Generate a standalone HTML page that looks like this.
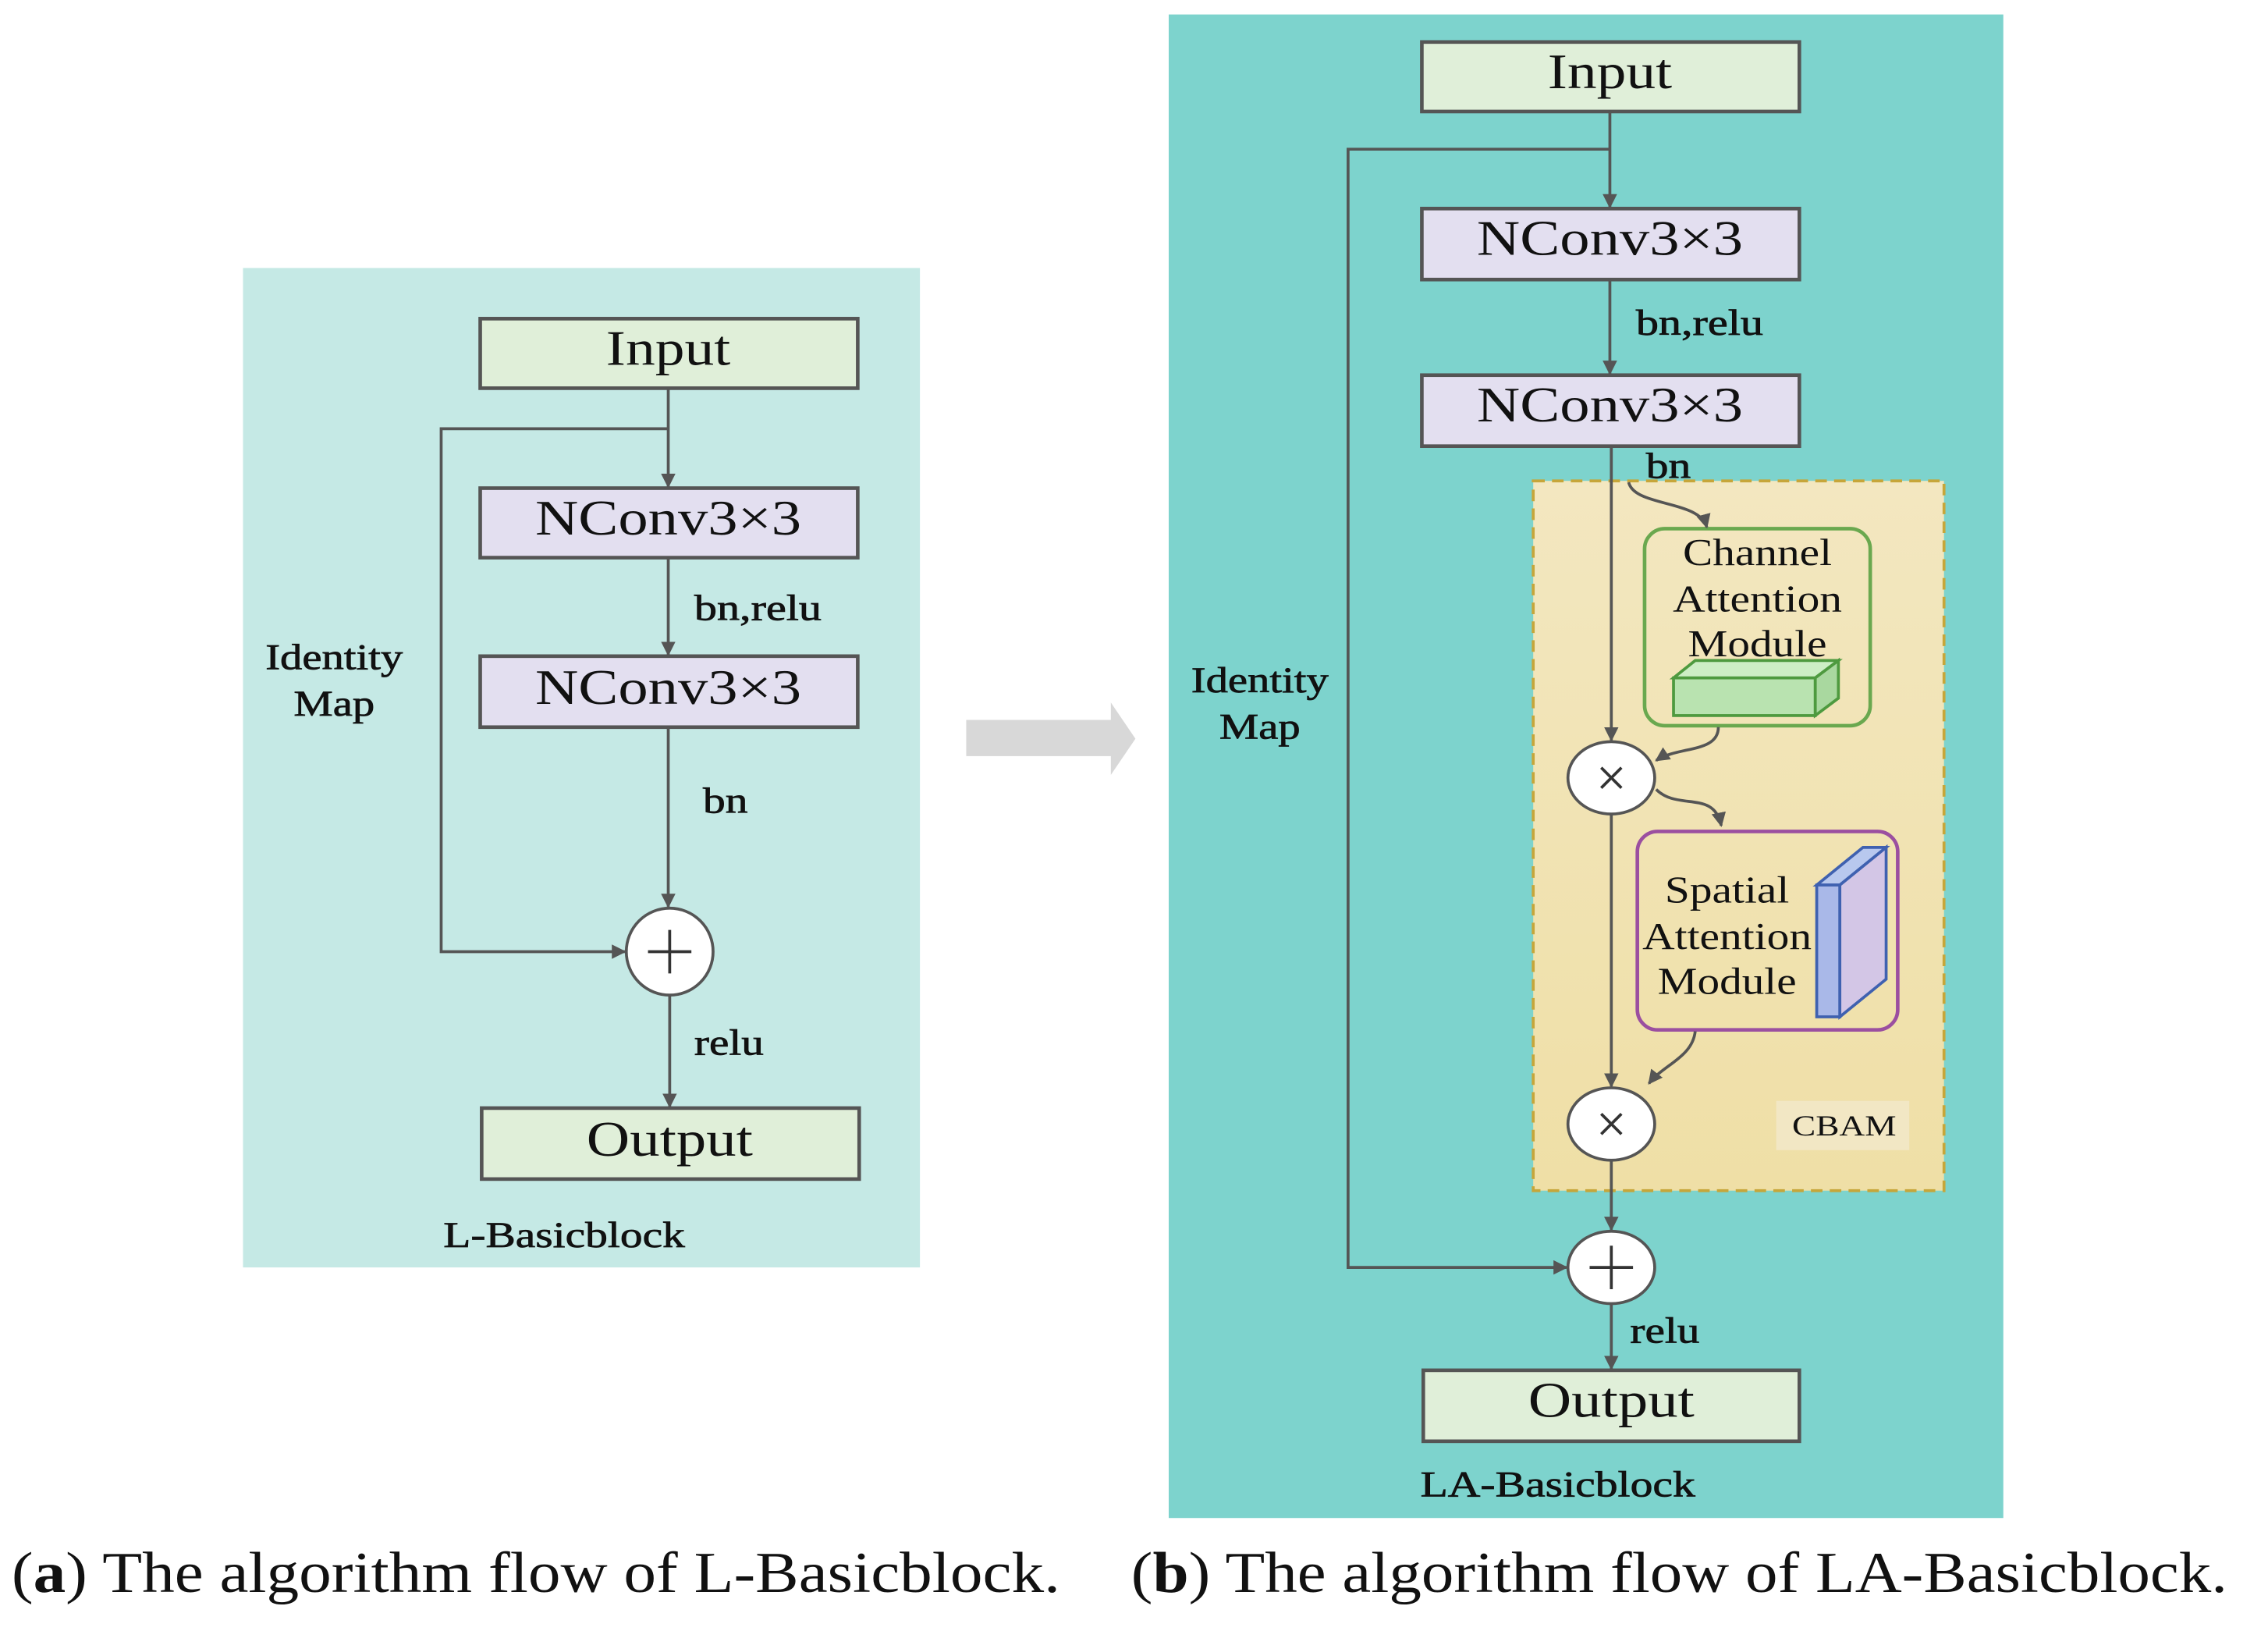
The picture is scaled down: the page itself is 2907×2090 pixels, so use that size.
<!DOCTYPE html>
<html><head><meta charset="utf-8"><style>html,body{margin:0;padding:0;background:#fff}svg{display:block}</style></head>
<body>
<svg width="2907" height="2090" viewBox="0 0 1568 1126" preserveAspectRatio="none" xmlns="http://www.w3.org/2000/svg" font-family="Liberation Serif, serif">
<defs>
<marker id="a" markerWidth="10" markerHeight="10" refX="9" refY="5" orient="auto" markerUnits="userSpaceOnUse"><path d="M0,0 L10,5 L0,10 Z" fill="#555"/></marker>
<linearGradient id="g" x1="0" y1="0" x2="0" y2="1"><stop offset="0" stop-color="#f3e7c0"/><stop offset="1" stop-color="#efdfa6"/></linearGradient>
</defs>
<rect x="168" y="185" width="468" height="690" fill="#c5e9e5"/>
<g stroke="#555" stroke-width="2.5">
<rect x="332" y="220" width="261" height="48" fill="#e0efd9"/>
<rect x="332" y="337" width="261" height="48" fill="#e3dff0"/>
<rect x="332" y="453" width="261" height="49" fill="#e3dff0"/>
<rect x="333" y="765" width="261" height="49" fill="#e0efd9"/>
</g>
<g stroke="#555" stroke-width="2" fill="none" marker-end="url(#a)">
<path d="M462,268 V336"/>
<path d="M462,296 H305 V657 H432"/>
<path d="M462,385 V452"/>
<path d="M462,502 V626"/>
<path d="M463,687 V764"/>
</g>
<circle cx="463" cy="657" r="30" fill="#fff" stroke="#555" stroke-width="2"/>
<path d="M448,657 H478 M463,642 V672" stroke="#333" stroke-width="2"/>
<g font-size="34" text-anchor="middle" fill="#111">
<text x="462" y="252" textLength="86" lengthAdjust="spacingAndGlyphs">Input</text>
<text x="462" y="369" textLength="184" lengthAdjust="spacingAndGlyphs">NConv3×3</text>
<text x="462" y="486" textLength="184" lengthAdjust="spacingAndGlyphs">NConv3×3</text>
<text x="463" y="798" textLength="115" lengthAdjust="spacingAndGlyphs">Output</text>
</g>
<g font-size="25" fill="#111" stroke="#111" stroke-width="0.4">
<text x="480" y="428" textLength="88" lengthAdjust="spacingAndGlyphs">bn,relu</text>
<text x="486" y="561" textLength="31" lengthAdjust="spacingAndGlyphs">bn</text>
<text x="480" y="728" textLength="48" lengthAdjust="spacingAndGlyphs">relu</text>
<text x="231" y="462" text-anchor="middle" textLength="95" lengthAdjust="spacingAndGlyphs">Identity</text>
<text x="231" y="494" text-anchor="middle" textLength="56" lengthAdjust="spacingAndGlyphs">Map</text>
<text x="390" y="861" text-anchor="middle" textLength="167" lengthAdjust="spacingAndGlyphs">L-Basicblock</text>
</g>
<path d="M668,497 H768 V485 L785,510 L768,535 V522 H668 Z" fill="#d8d8d8"/>
<rect x="808" y="10" width="577" height="1038" fill="#7dd3cd"/>
<rect x="1060" y="332" width="284" height="490" fill="url(#g)" stroke="#c6a63a" stroke-width="2" stroke-dasharray="8,5"/>
<g stroke="#555" stroke-width="2.5">
<rect x="983" y="29" width="261" height="48" fill="#e0efd9"/>
<rect x="983" y="144" width="261" height="49" fill="#e3dff0"/>
<rect x="983" y="259" width="261" height="49" fill="#e3dff0"/>
<rect x="984" y="946" width="260" height="49" fill="#e0efd9"/>
</g>
<rect x="1137" y="365" width="156" height="136" rx="14" fill="none" stroke="#6aa84f" stroke-width="2.5"/>
<rect x="1132" y="574" width="180" height="137" rx="14" fill="none" stroke="#9b4fa0" stroke-width="2.5"/>
<g stroke="#4e9a3f" stroke-width="2" fill="#b9e3b0">
<rect x="1157" y="468" width="98" height="26"/>
<path d="M1157,468 L1172,456 H1271 L1255,468 Z" fill="#cdeec5"/>
<path d="M1255,468 L1271,456 V482 L1255,494 Z" fill="#a9d89f"/>
</g>
<g stroke="#3f61b0" stroke-width="2">
<path d="M1256,611 L1288,585 H1304 L1272,611 Z" fill="#b8c8ee"/>
<rect x="1256" y="611" width="16" height="91" fill="#a9b8e8"/>
<path d="M1272,611 L1304,585 V676 L1272,702 Z" fill="#d3c6e6"/>
</g>
<g stroke="#555" stroke-width="2" fill="none" marker-end="url(#a)">
<path d="M1113,77 V143"/>
<path d="M1113,103 H932 V875 H1083"/>
<path d="M1113,193 V258"/>
<path d="M1114,308 V511"/>
<path d="M1114,562 V750"/>
<path d="M1114,801 V849"/>
<path d="M1114,900 V945"/>
<path d="M1126,333 C1130,350 1175,345 1180,364"/>
<path d="M1188,502 C1188,520 1160,515 1145,525"/>
<path d="M1145,545 C1160,560 1185,545 1190,570"/>
<path d="M1172,712 C1170,730 1150,735 1140,748"/>
</g>
<g fill="#fff" stroke="#555" stroke-width="2">
<ellipse cx="1114" cy="537" rx="30" ry="25"/>
<ellipse cx="1114" cy="776" rx="30" ry="25"/>
<ellipse cx="1114" cy="875" rx="30" ry="25"/>
</g>
<path d="M1107,530 L1121,544 M1121,530 L1107,544 M1107,769 L1121,783 M1121,769 L1107,783 M1099,875 H1129 M1114,860 V890" stroke="#333" stroke-width="2"/>
<rect x="1228" y="760" width="92" height="34" fill="#f4ead0" opacity="0.7"/>
<g font-size="34" text-anchor="middle" fill="#111">
<text x="1113" y="61" textLength="86" lengthAdjust="spacingAndGlyphs">Input</text>
<text x="1113" y="176" textLength="184" lengthAdjust="spacingAndGlyphs">NConv3×3</text>
<text x="1113" y="291" textLength="184" lengthAdjust="spacingAndGlyphs">NConv3×3</text>
<text x="1114" y="978" textLength="115" lengthAdjust="spacingAndGlyphs">Output</text>
</g>
<g font-size="25" fill="#111" stroke="#111" stroke-width="0.4">
<text x="1131" y="231" textLength="88" lengthAdjust="spacingAndGlyphs">bn,relu</text>
<text x="1138" y="330" textLength="31" lengthAdjust="spacingAndGlyphs">bn</text>
<text x="1127" y="927" textLength="48" lengthAdjust="spacingAndGlyphs">relu</text>
<text x="871" y="478" text-anchor="middle" textLength="95" lengthAdjust="spacingAndGlyphs">Identity</text>
<text x="871" y="510" text-anchor="middle" textLength="56" lengthAdjust="spacingAndGlyphs">Map</text>
<text x="1077" y="1033" text-anchor="middle" textLength="190" lengthAdjust="spacingAndGlyphs">LA-Basicblock</text>
</g>
<g font-size="26" text-anchor="middle" fill="#111">
<text x="1215" y="390" textLength="103" lengthAdjust="spacingAndGlyphs">Channel</text>
<text x="1215" y="422" textLength="117" lengthAdjust="spacingAndGlyphs">Attention</text>
<text x="1215" y="453" textLength="96" lengthAdjust="spacingAndGlyphs">Module</text>
<text x="1194" y="623" textLength="86" lengthAdjust="spacingAndGlyphs">Spatial</text>
<text x="1194" y="655" textLength="117" lengthAdjust="spacingAndGlyphs">Attention</text>
<text x="1194" y="686" textLength="96" lengthAdjust="spacingAndGlyphs">Module</text>
</g>
<text x="1275" y="784" font-size="20" text-anchor="middle" fill="#111" textLength="72" lengthAdjust="spacingAndGlyphs">CBAM</text>
<g font-size="40" fill="#111">
<text x="8" y="1099" textLength="725" lengthAdjust="spacingAndGlyphs">(<tspan font-weight="bold">a</tspan>) The algorithm flow of L-Basicblock.</text>
<text x="782" y="1099" textLength="758" lengthAdjust="spacingAndGlyphs">(<tspan font-weight="bold">b</tspan>) The algorithm flow of LA-Basicblock.</text>
</g>
</svg>
</body></html>
